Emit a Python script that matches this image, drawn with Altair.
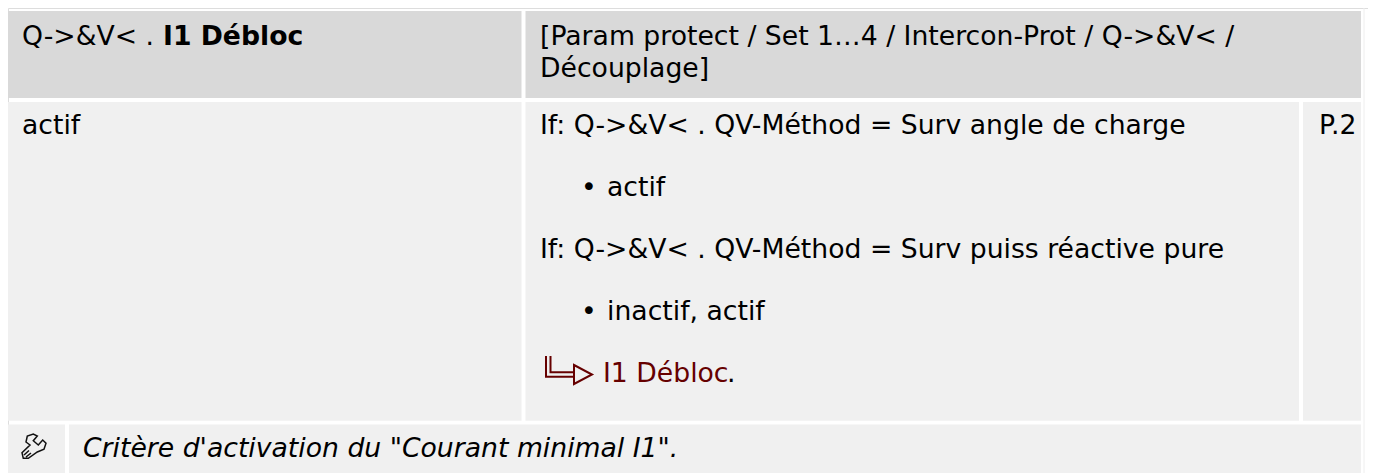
import altair as alt
import pandas as pd

# --- text content ---
normal_text = ["Q->&V< .", "[Param protect / Set 1…4 / Intercon-Prot / Q->&V< /", "Découplage]", "actif",
               "If: Q->&V< . QV-Méthod = Surv angle de charge", "•", "actif",
               "If: Q->&V< . QV-Méthod = Surv puiss réactive pure", "•", "inactif, actif", ".", "P.2"]
bold_text = ["I1 Débloc"]
italic_text = ["Critère d'activation du \"Courant minimal I1\"."]
link_text = ["I1 Débloc"]

# --- layout of the sheet (page pixels) ---
normal_x = [22, 540, 540, 22, 540, 581, 607, 540, 581, 607, 727, 1319]
normal_y = [45, 45, 77, 134, 134, 196, 196, 258, 320, 320, 382, 134]
bold_x, bold_y = [163], [45]
italic_x, italic_y = [83], [457]
link_x, link_y = [603], [382]

cell_left = [7.5, 525.5, 7.5, 525.5, 1303, 7.5, 69]
cell_right = [521.5, 1361, 521.5, 1299, 1361, 65, 1361]
cell_top = [11, 11, 102, 102, 102, 424.5, 424.5]
cell_bottom = [98, 98, 420.7, 420.7, 420.7, 473, 473]
cell_fill = ["#d9d9d9", "#d9d9d9", "#f0f0f0", "#f0f0f0", "#f0f0f0", "#f0f0f0", "#f0f0f0"]

W, H = 1360, 465
FONT = "DejaVu Sans"
SIZE = 26.67
X = alt.Scale(domain=[8, 8 + W], range=[0, W])
Y = alt.Scale(domain=[8, 8 + H], range=[0, H])


def px(field):
    return alt.X(field, type="quantitative", scale=X, axis=None)


def py(field):
    return alt.Y(field, type="quantitative", scale=Y, axis=None)


cells = pd.DataFrame({"l": cell_left, "r": cell_right, "t": cell_top, "b": cell_bottom, "f": cell_fill})
rects = alt.Chart(cells).mark_rect().encode(
    x=px("l"), x2=alt.X2("r"), y=py("t"), y2=alt.Y2("b"),
    color=alt.Color("f:N", scale=None),
)

frame = alt.Chart(pd.DataFrame({"x": [1364], "a": [8], "b": [473]})).mark_rule(
    color="#eeeeee", strokeWidth=1
).encode(x=px("x"), y=py("a"), y2=alt.Y2("b"))


def text_layer(xs, ys, labels, color="#000000", **kw):
    df = pd.DataFrame({"x": xs, "y": ys, "label": labels})
    return alt.Chart(df).mark_text(
        font=FONT, fontSize=SIZE, align="left", baseline="alphabetic", color=color, **kw
    ).encode(x=px("x"), y=py("y"), text="label:N")


normal = text_layer(normal_x, normal_y, normal_text)
bold = text_layer(bold_x, bold_y, bold_text, fontWeight="bold")
italic = text_layer(italic_x, italic_y, italic_text, fontStyle="italic")
link = text_layer(link_x, link_y, link_text, color="#660000")

ARROW = ("M-28 -18V2.7H0M-23.5 -18V-1.8H0M0 -9L18 0.5L0 10Z")
arrow = alt.Chart(pd.DataFrame({"x": [574], "y": [374]})).mark_point(
    shape=ARROW, size=4, filled=False, stroke="#660000", strokeWidth=2, opacity=1
).encode(x=px("x"), y=py("y"))

WRENCH = ("M-11.7 11.3L-13 5.7L-5 -2L-9 -5L-7.7 -11L-1.7 -13L2.3 -11L-1.7 -6.3L3.3 -2L7.7 -7"
          "L11 -3.7L9 2.3L2.3 5L-6.7 11.3ZM-11 8L-6 3.5M-9 10L-4 6")
wrench = alt.Chart(pd.DataFrame({"x": [35], "y": [447]})).mark_point(
    shape=WRENCH, size=4, filled=False, stroke="#111111", strokeWidth=1.5, opacity=1
).encode(x=px("x"), y=py("y"))

chart = alt.layer(rects, frame, normal, bold, italic, link, arrow, wrench).properties(
    width=W, height=H, padding=0, autosize="none"
).configure_view(stroke=None).configure(background="#ffffff")

chart.save("out.html", embed_options={"renderer": "svg", "actions": False})
